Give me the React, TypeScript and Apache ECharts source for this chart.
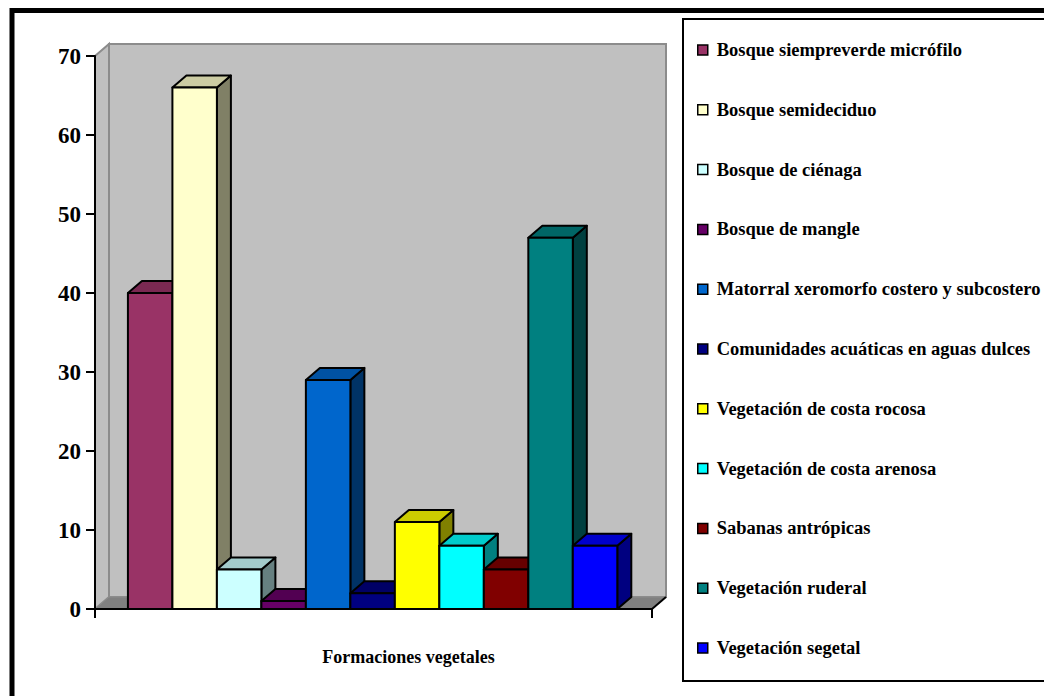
import React, { useEffect, useRef } from "react";
import * as echarts from "echarts";

const categories = [
  "Bosque siempreverde micrófilo",
  "Bosque semideciduo",
  "Bosque de ciénaga",
  "Bosque de mangle",
  "Matorral xeromorfo costero y subcostero",
  "Comunidades acuáticas en aguas dulces",
  "Vegetación de costa rocosa",
  "Vegetación de costa arenosa",
  "Sabanas antrópicas",
  "Vegetación ruderal",
  "Vegetación segetal",
];
const values = [40, 66, 5, 1, 29, 2, 11, 8, 5, 47, 8];
const yTicks = [0, 10, 20, 30, 40, 50, 60, 70];
const axisTitle = "Formaciones vegetales";

const frontColors = ["#993366", "#FFFFCC", "#CCFFFF", "#660066", "#0066CC", "#000080", "#FFFF00", "#00FFFF", "#800000", "#008080", "#0000FF"];
const topColors = ["#7A2952", "#CCCCA3", "#A3CCCC", "#520052", "#0052A3", "#000066", "#CCCC00", "#00CCCC", "#660000", "#006666", "#0000CC"];
const sideColors = ["#4D1A33", "#808066", "#668080", "#330033", "#003366", "#000040", "#808000", "#008080", "#400000", "#004040", "#000080"];

const XMIN = -0.74;
const XMAX = 11.78;
const DX = 14;
const DY = -12;
const FONT = "'Liberation Serif', 'Times New Roman', serif";

export default function App() {
  const ref = useRef<HTMLDivElement>(null);
  useEffect(() => {
    if (!ref.current) return;
    const chart = echarts.init(ref.current, null, { renderer: "svg" });
    const yMax = yTicks[yTicks.length - 1];

    const wallSeries: any = {
      type: "custom",
      name: "walls",
      z: 1,
      silent: true,
      data: [[XMIN, 0]],
      encode: { x: 0, y: 1 },
      renderItem: (_p: any, api: any) => {
        const bl = api.coord([XMIN, 0]);
        const tr = api.coord([XMAX, yMax]);
        const xl = bl[0], yb = bl[1], xr = tr[0], yt = tr[1];
        return {
          type: "group",
          children: [
            { type: "rect", shape: { x: xl + DX, y: yt + DY, width: xr - xl, height: yb - yt }, style: { fill: "#C0C0C0", stroke: "#8C8C8C", lineWidth: 2 } },
            { type: "polygon", shape: { points: [[xl, yt], [xl + DX, yt + DY], [xl + DX, yb + DY], [xl, yb]] }, style: { fill: "#C0C0C0", stroke: "#8C8C8C", lineWidth: 2 } },
            { type: "polygon", shape: { points: [[xl, yb], [xl + DX, yb + DY], [xr + DX, yb + DY], [xr, yb]] }, style: { fill: "#808080", stroke: "#8C8C8C", lineWidth: 1 } },
            { type: "line", shape: { x1: xl, y1: yb, x2: xr, y2: yb }, style: { stroke: "#000", lineWidth: 2 } },
            { type: "line", shape: { x1: xr, y1: yb, x2: xr + DX, y2: yb + DY }, style: { stroke: "#000", lineWidth: 2 } },
            { type: "line", shape: { x1: xr, y1: yb, x2: xr, y2: yb + 9 }, style: { stroke: "#000", lineWidth: 2 } },
            { type: "line", shape: { x1: xl, y1: yb, x2: xl, y2: yb + 9 }, style: { stroke: "#000", lineWidth: 2 } },
          ],
        };
      },
    };

    const barSeries = categories.map((name, i) => ({
      type: "custom",
      name,
      z: 2,
      itemStyle: { color: frontColors[i] },
      data: [[i, values[i]]],
      encode: { x: 0, y: 1 },
      renderItem: (_p: any, api: any) => {
        const idx = api.value(0);
        const v = api.value(1);
        const p0 = api.coord([idx, 0]);
        const p1 = api.coord([idx + 1, v]);
        const xl = p0[0], yb = p0[1], xr = p1[0], yt = p1[1];
        const st = { stroke: "#000", lineWidth: 2, lineJoin: "round" };
        return {
          type: "group",
          children: [
            { type: "polygon", shape: { points: [[xr, yt], [xr + DX, yt + DY], [xr + DX, yb + DY], [xr, yb]] }, style: { ...st, fill: sideColors[i] } },
            { type: "polygon", shape: { points: [[xl, yt], [xl + DX, yt + DY], [xr + DX, yt + DY], [xr, yt]] }, style: { ...st, fill: topColors[i] } },
            { type: "rect", shape: { x: xl, y: yt, width: xr - xl, height: yb - yt }, style: { ...st, fill: frontColors[i] } },
          ],
        };
      },
    }));

    chart.setOption({
      animation: false,
      backgroundColor: "#FFFFFF",
      grid: { left: 95, right: 392, top: 56, bottom: 87 },
      xAxis: {
        type: "value",
        min: XMIN,
        max: XMAX,
        z: 5,
        axisLine: { show: false },
        axisTick: { show: false },
        axisLabel: { show: false },
        splitLine: { show: false },
        name: axisTitle,
        nameLocation: "middle",
        nameGap: 39,
        nameTextStyle: { fontFamily: FONT, fontWeight: "bold", fontSize: 18, color: "#000", padding: [0, 0, 0, 70] },
      },
      yAxis: {
        type: "value",
        min: 0,
        max: yMax,
        interval: 10,
        z: 5,
        axisLine: { show: true, onZero: false, lineStyle: { color: "#000", width: 2 } },
        axisTick: { show: true, length: 9, lineStyle: { color: "#000", width: 2 } },
        axisLabel: { fontFamily: FONT, fontWeight: "bold", fontSize: 23, color: "#000", margin: 14 },
        splitLine: { show: false },
      },
      legend: {
        orient: "vertical",
        left: 697,
        top: 40,
        padding: 0,
        data: categories,
        icon: "rect",
        itemWidth: 10,
        itemHeight: 10,
        itemGap: 39.8,
        itemStyle: { borderColor: "#000", borderWidth: 1.5 },
        textStyle: { fontFamily: FONT, fontWeight: "bold", fontSize: 18.5, color: "#000", lineHeight: 20, padding: [0, 0, 0, 4] },
        selectedMode: false,
      },
      graphic: [
        { type: "rect", silent: true, shape: { x: 12, y: 10.5, width: 1100, height: 800 }, style: { fill: "none", stroke: "#000", lineWidth: 5 } },
        { type: "rect", silent: true, shape: { x: 683, y: 19, width: 420, height: 662 }, style: { fill: "none", stroke: "#000", lineWidth: 2 } },
      ],
      series: [wallSeries, ...barSeries],
    });
    return () => chart.dispose();
  }, []);
  return <div ref={ref} style={{ position: "absolute", left: 0, top: 0, width: 1044, height: 696 }} />;
}
